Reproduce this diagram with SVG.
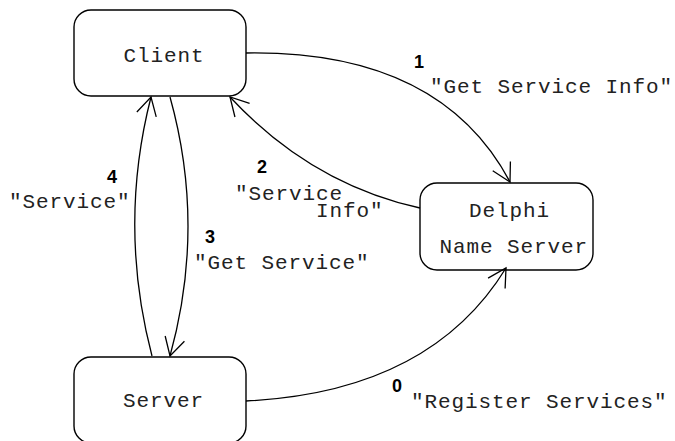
<svg xmlns="http://www.w3.org/2000/svg" width="675" height="441" viewBox="0 0 675 441">
<style>
.box{fill:#fff;stroke:#000;stroke-width:1.4}
.t{font-family:"Liberation Mono","Courier New",monospace;font-size:21px;letter-spacing:0.9px;fill:#222}
.n{font-family:"Liberation Sans",Arial,sans-serif;font-size:18px;font-weight:bold;fill:#000;text-anchor:middle}
.c{fill:none;stroke:#000;stroke-width:1.3}
</style>
<defs>
<marker id="arr" viewBox="-20 -12 22 24" refX="0" refY="0" markerWidth="22" markerHeight="24" markerUnits="userSpaceOnUse" orient="auto">
<path d="M-18,-10 L0,0 L-18,10" fill="none" stroke="#000" stroke-width="1.3"/>
</marker>
</defs>
<g id="client"><rect class="box" x="74" y="10" width="172" height="86" rx="17"/><text class="t" x="123.5" y="62">Client</text></g>
<g id="nameserver"><rect class="box" x="420" y="183" width="173" height="87" rx="17"/><text class="t" x="469" y="217">Delphi</text><text class="t" x="439.5" y="253">Name Server</text></g>
<g id="server"><rect class="box" x="74" y="357" width="172" height="86" rx="17"/><text class="t" x="123" y="407">Server</text></g>
<g id="connectors">
<path class="c" d="M246,53 Q440,50 510,182" marker-end="url(#arr)"/>
<path class="c" d="M420,208 Q311,184 230,97" marker-end="url(#arr)"/>
<path class="c" d="M170,97 Q206,226 170,356" marker-end="url(#arr)"/>
<path class="c" d="M152,356 Q118,226 151,97" marker-end="url(#arr)"/>
<path class="c" d="M246,401 Q430,392 506,268" marker-end="url(#arr)"/>
</g>
<g id="labels">
<text class="n" x="419" y="68">1</text>
<text class="t" x="430" y="93">"Get Service Info"</text>
<text class="n" x="262" y="173">2</text>
<text class="t"><tspan x="235" y="200">"Service</tspan><tspan x="316" y="217">Info"</tspan></text>
<text class="n" x="112" y="183">4</text>
<text class="t" x="9" y="208">"Service"</text>
<text class="n" x="210" y="243">3</text>
<text class="t" x="194" y="269">"Get Service"</text>
<text class="n" x="397" y="392">0</text>
<text class="t" x="411" y="408">"Register Services"</text>
</g>
</svg>
